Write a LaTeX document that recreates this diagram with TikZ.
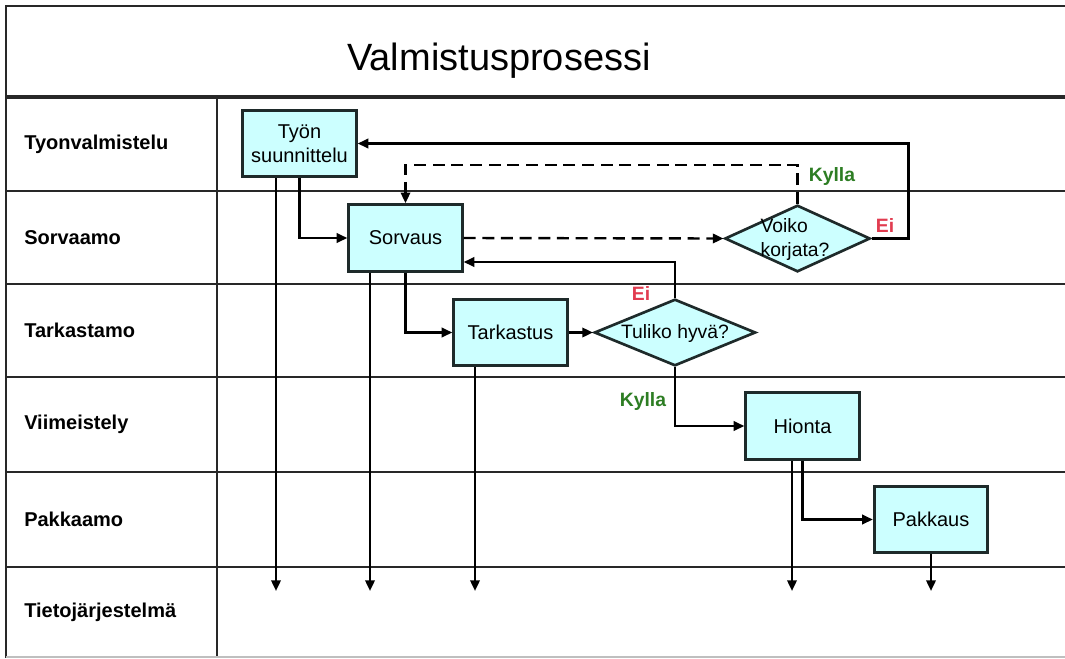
\documentclass[tikz,border=0pt]{standalone}
\usepackage{fontspec}
\setmainfont{Liberation Sans}
\usepackage{xcolor}
\usepackage{tikz}
\usetikzlibrary{
	arrows.meta,
	calc,
	positioning,
	shapes.geometric
}
\definecolor{boxfill}{RGB}{204,255,255}
\definecolor{boxline}{RGB}{30,42,42}
\definecolor{yesgreen}{RGB}{45,125,35}
\definecolor{nored}{RGB}{225,60,80}
\definecolor{laneline}{RGB}{40,40,40}

\begin{document}
\begin{tikzpicture}[x=0.75pt, y=-0.75pt,
	task/.style={draw=boxline, fill=boxfill, line width=2.2pt, minimum width=85pt, minimum height=50pt, inner sep=0pt, align=center, font=\fontsize{15}{18}\selectfont},
	decision/.style={diamond, draw=boxline, fill=boxfill, line width=2pt, minimum height=50pt, inner sep=0pt},
	txt/.style={font=\fontsize{14.5}{18}\selectfont, inner sep=0pt, align=left},
	lane/.style={anchor=west, inner sep=0pt, font=\fontsize{15}{18}\selectfont\bfseries},
	flow/.style={line width=1.8pt, -{Triangle[length=8pt, width=7pt]}},
	yes/.style={text=yesgreen, inner sep=0pt, font=\fontsize{14.5}{18}\selectfont\bfseries},
	no/.style={text=nored, inner sep=0pt, font=\fontsize{14.5}{18}\selectfont\bfseries}
]
	\useasboundingbox (0,0) rectangle (1065,658);
	\draw[laneline, line width=2pt] (1065,6) -- (6,6) -- (6,658);
	\draw[laneline, line width=2.4pt] (6,97) -- (1065,97);
	\foreach \y in {191,284,377,472,567}
	\draw[laneline, line width=1.6pt] (6,\y) -- (1065,\y);
	\draw[laneline, line width=1.6pt] (217,97) -- (217,658);
	\draw[black!25, line width=1pt] (6,657) -- (1065,657);
	\node[font=\fontsize{28.5}{32}\selectfont, anchor=base] (title) at (499,70) {Valmistusprosessi};
	\foreach \n/\y/\t in {tyonval/144/Tyonvalmistelu, sorvaamo/238/Sorvaamo, tarkastamo/330/Tarkastamo, viimeistely/424/Viimeistely, pakkaamo/519/Pakkaamo, tieto/612/Tietojärjestelmä}
	\node[lane] (\n) at (24,\y) {\t};

	\node[task] (tyo) at (299.5,143.5) {Työn\\suunnittelu};
	\node[task] (sorvaus) at (405.5,238) {Sorvaus};
	\node[task] (tarkastus) at (510.5,332.5) {Tarkastus};
	\node[task] (hionta) at (802.5,426) {Hionta};
	\node[task] (pakkaus) at (931,519.5) {Pakkaus};
	\node[decision, minimum width=109pt] (voiko) at (797.5,238.5) {};
	\node[txt] (voikotxt) at (795,239) {Voiko\\korjata?};
	\node[decision, minimum width=121pt] (tuliko) at (675,332.5) {};
	\node[txt] (tulikotxt) at (675,333) {Tuliko hyvä?};

	\foreach \p/\x in {d1/276, d2/370, d3/475, d4/792, d5/931}
	\coordinate (\p) at (\x,591);

	\draw[flow] (tyo.south) |- (sorvaus.west);
	\draw[flow] (tyo.south -| d1) -- (d1);
	\draw[flow] (sorvaus.south) |- (tarkastus.west);
	\draw[flow] (sorvaus.south -| d2) -- (d2);
	\draw[flow, dashed, dash pattern=on 9pt off 5pt] (sorvaus.east) -- (voiko.west);
	\draw[flow, dashed, dash pattern=on 9pt off 5pt] (voiko.north) -- ++(0,-39) -| (sorvaus.north);
	\draw[flow] (voiko.east) -- ++(37,0) |- (tyo.east);
	\draw[flow] (tarkastus.east) -- (tuliko.west);
	\draw[flow] (tarkastus.south -| d3) -- (d3);
	\draw[flow] (tuliko.north) |- ([yshift=-18pt]sorvaus.east);
	\draw[flow] (tuliko.south) |- (hionta.west);
	\draw[flow] (hionta.south -| d4) -- (d4);
	\draw[flow] (hionta.south) |- (pakkaus.west);
	\draw[flow] (pakkaus.south) -- (d5);

	\node[yes] (kylla1) at (832,176) {Kylla};
	\node[no] (ei1) at (885,225) {Ei};
	\node[no] (ei2) at (641,293) {Ei};
	\node[yes] (kylla2) at (643,401) {Kylla};
\end{tikzpicture}
\end{document}
